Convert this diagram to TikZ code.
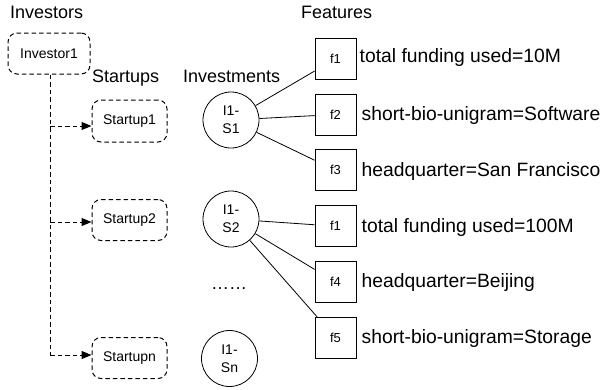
\documentclass[tikz,border=0pt]{standalone}
\usepackage{fontspec}
\setmainfont{Liberation Sans}
\usetikzlibrary{arrows.meta}
\begin{document}
\begin{tikzpicture}[x=1pt,y=-1pt,
  hdr/.style={font=\fontsize{18}{20}\selectfont, inner sep=0pt},
  ftext/.style={font=\fontsize{19.3}{22}\selectfont, inner sep=0pt, anchor=base west},
  dbox/.style={draw, line width=1pt, dash pattern=on 4.5pt off 3pt, rounded corners=9pt,
    font=\fontsize{14}{16}\selectfont, inner sep=0pt},
  invcirc/.style={draw, circle, line width=0.8pt, minimum size=56pt, inner sep=0pt,
    align=center, font=\fontsize{14}{18}\selectfont},
  fbox/.style={draw, line width=0.8pt, minimum width=41pt, minimum height=41pt, inner sep=0pt,
    font=\fontsize{13}{15}\selectfont},
  dl/.style={line width=1pt, dash pattern=on 4.5pt off 3pt},
  tip/.style={-{Triangle[length=10pt,width=8pt]}},
  link/.style={line width=0.8pt}]
\useasboundingbox (0,0) rectangle (608,389);

% headers
\node[hdr, anchor=base west] (hinv) at (10,18.3) {Investors};
\node[hdr, anchor=base west] (hst) at (92,82) {Startups};
\node[hdr, anchor=base west] (hivm) at (183,82.5) {Investments};
\node[hdr, anchor=base west] (hfeat) at (301,18.3) {Features};

% investor & startups
\node[dbox, minimum width=82pt, minimum height=41pt] (inv) at (49,53.5) {Investor1};
\node[dbox, minimum width=75pt, minimum height=42pt] (s1) at (129.5,121) {Startup1};
\node[dbox, minimum width=75pt, minimum height=41pt] (s2) at (129.5,220) {Startup2};
\node[dbox, minimum width=75pt, minimum height=41pt] (sn) at (129.5,358) {Startupn};

\coordinate (b1) at (50,126);
\coordinate (b2) at (50,222);
\coordinate (bn) at (50,355);
\draw[dl] (inv.south -| bn) -- (bn);
\draw[dl, tip] (b1) -- (s1.west |- b1);
\draw[dl, tip] (b2) -- (s2.west |- b2);
\draw[dl, tip] (bn) -- (sn.west |- bn);

% investments
\node[invcirc] (c1) at (231,120) {I1-\\S1};
\node[invcirc] (c2) at (231,219) {I1-\\S2};
\node[invcirc] (cn) at (229.5,358.5) {I1-\\Sn};
\node[hdr, anchor=base] (dots) at (229,289.5) {……};

% features
\node[fbox] (fa) at (335.5,58.8) {f1};
\node[fbox] (fb) at (335.5,114.5) {f2};
\node[fbox] (fc) at (335.5,170.3) {f3};
\node[fbox] (fd) at (335.5,226.2) {f1};
\node[fbox] (fe) at (335.5,282) {f4};
\node[fbox] (ff) at (335.5,337.8) {f5};

\node[ftext] (ta) at (359.5,62.7) {total funding used=10M};
\node[ftext] (tb) at (361.5,120) {short-bio-unigram=Software};
\node[ftext] (tc) at (361.5,176.3) {headquarter=San Francisco};
\node[ftext] (td) at (361.5,232) {total funding used=100M};
\node[ftext] (te) at (361.5,287.8) {headquarter=Beijing};
\node[ftext] (tf) at (361.5,343.6) {short-bio-unigram=Storage};

% links
\draw[link] (c1) -- (fa);
\draw[link] (c1) -- (fb);
\draw[link] (c1) -- (fc);
\draw[link] (c2) -- (fd);
\draw[link] (c2) -- (fe);
\draw[link] (c2) -- (ff);
\end{tikzpicture}
\end{document}
